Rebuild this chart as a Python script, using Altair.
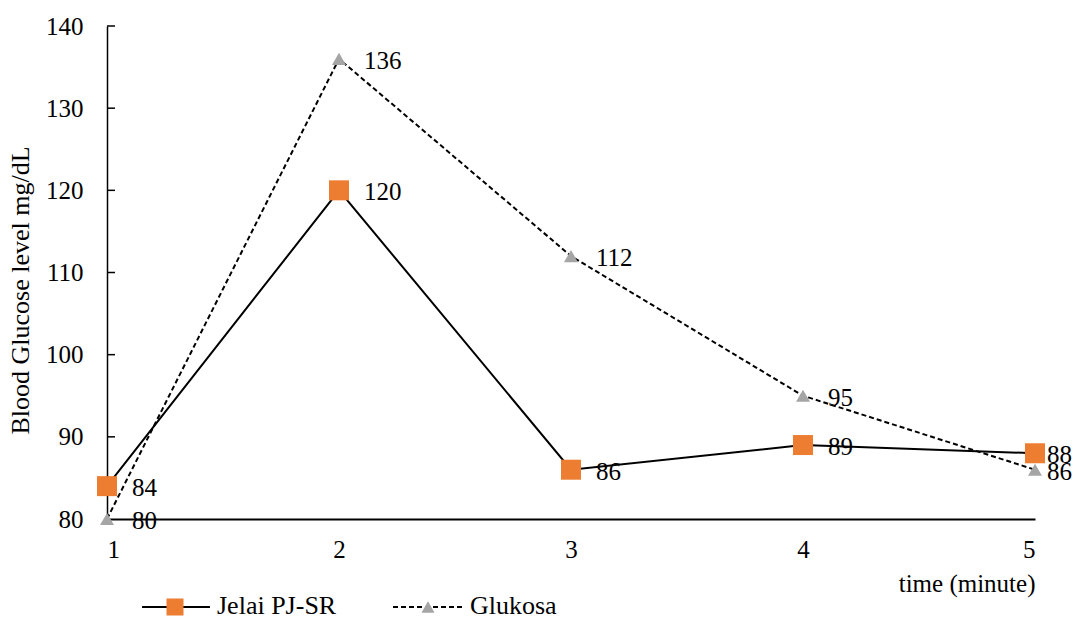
import altair as alt
import pandas as pd

# Blood glucose readings per time point
time_points = [1, 2, 3, 4, 5]
jelai_values = [84, 120, 86, 89, 88]
glukosa_values = [80, 136, 112, 95, 86]
series_names = ["Jelai PJ-SR", "Glukosa"]
y_ticks = [80, 90, 100, 110, 120, 130, 140]

FONT = "'Liberation Serif', 'Times New Roman', serif"
FS = 25
ORANGE = "#ED7D31"
GREY = "#A5A5A5"
DASH = [5, 3]

jelai = pd.DataFrame({"time": time_points, "value": jelai_values, "series": series_names[0]})
glukosa = pd.DataFrame({"time": time_points, "value": glukosa_values, "series": series_names[1]})
both = pd.concat([jelai, glukosa], ignore_index=True)
ticks = pd.DataFrame({"value": y_ticks[1:]})

x_enc = alt.X(
    "time:Q",
    scale=alt.Scale(domain=[1, 5], nice=False, zero=False),
    axis=alt.Axis(
        values=time_points, format="d", title="time (minute)", ticks=False, tickSize=0,
        grid=False, domainColor="black", domainWidth=2, labelPadding=18,
        labelFont=FONT, labelFontSize=FS, labelColor="black",
        titleFont=FONT, titleFontSize=FS, titleFontWeight="normal", titleColor="black",
        titleAlign="right", titleX=928, titleY=72, titleBaseline="alphabetic",
    ),
)
y_enc = alt.Y(
    "value:Q",
    scale=alt.Scale(domain=[80, 140], nice=False, zero=False),
    axis=alt.Axis(
        values=y_ticks, title="Blood Glucose level mg/dL", ticks=False, tickSize=0,
        grid=False, domainColor="black", domainWidth=1.5, labelPadding=24,
        labelFont=FONT, labelFontSize=FS, labelColor="black",
        titleFont=FONT, titleFontSize=26, titleFontWeight="normal", titleColor="black",
        titleAngle=-90, titleX=-79, titleY=264, titleAlign="center", titleBaseline="alphabetic",
    ),
)

# Inward-pointing tick marks on the value axis
tick_marks = alt.Chart(ticks).mark_rule(color="black", strokeWidth=1.5).encode(
    y=alt.Y("value:Q", scale=alt.Scale(domain=[80, 140], nice=False, zero=False)),
    x=alt.value(0), x2=alt.value(8),
)

glukosa_line = alt.Chart(glukosa).mark_line(color="black", strokeWidth=2, strokeDash=DASH).encode(x=x_enc, y=y_enc)
jelai_line = alt.Chart(jelai).mark_line(color="black", strokeWidth=2).encode(x=x_enc, y=y_enc)
glukosa_pts = alt.Chart(glukosa).mark_point(
    shape="triangle-up", size=196, filled=True, color=GREY, opacity=1
).encode(x=x_enc, y=y_enc)
jelai_pts = alt.Chart(jelai).mark_point(
    shape="square", size=400, filled=True, color=ORANGE, opacity=1
).encode(x=x_enc, y=y_enc)

label_style = dict(font=FONT, fontSize=FS, color="black", align="left", baseline="middle", dy=2)
labels_mid = alt.Chart(both).transform_filter("datum.time < 5").mark_text(dx=25, **label_style).encode(
    x=x_enc, y=y_enc, text=alt.Text("value:Q")
)
labels_end = alt.Chart(both).transform_filter("datum.time == 5").mark_text(dx=12, **label_style).encode(
    x=x_enc, y=y_enc, text=alt.Text("value:Q")
)

# Legend drawn below the plot: line + marker + name for each series
LEG_Y = 580
LEG_FS = 26
leg_df = pd.DataFrame({"series": series_names})
leg_jelai = leg_df[leg_df.series == series_names[0]]
leg_gluk = leg_df[leg_df.series == series_names[1]]

legend_layers = [
    alt.Chart(leg_jelai).mark_rule(color="black", strokeWidth=2).encode(
        x=alt.value(35), x2=alt.value(103), y=alt.value(LEG_Y + 1)),
    alt.Chart(leg_jelai).mark_point(shape="square", size=289, filled=True, color=ORANGE, opacity=1).encode(
        x=alt.value(68), y=alt.value(LEG_Y + 1)),
    alt.Chart(leg_jelai).mark_text(font=FONT, fontSize=LEG_FS, color="black", align="left", baseline="middle").encode(
        x=alt.value(110), y=alt.value(LEG_Y), text="series:N"),
    alt.Chart(leg_gluk).mark_rule(color="black", strokeWidth=2, strokeDash=DASH).encode(
        x=alt.value(286), x2=alt.value(356), y=alt.value(LEG_Y + 1)),
    alt.Chart(leg_gluk).mark_point(shape="triangle-up", size=169, filled=True, color=GREY, opacity=1).encode(
        x=alt.value(321), y=alt.value(LEG_Y + 1)),
    alt.Chart(leg_gluk).mark_text(font=FONT, fontSize=LEG_FS, color="black", align="left", baseline="middle").encode(
        x=alt.value(363), y=alt.value(LEG_Y), text="series:N"),
]

chart = alt.layer(
    glukosa_line, jelai_line, tick_marks, glukosa_pts, jelai_pts, labels_mid, labels_end, *legend_layers
).properties(
    width=928, height=493,
    autosize=alt.AutoSizeParams(type="none"),
    padding={"left": 107, "top": 26, "right": 39, "bottom": 98},
    background="white",
).configure_view(stroke=None)

chart.save("out.html", embed_options={"renderer": "svg", "actions": False})
